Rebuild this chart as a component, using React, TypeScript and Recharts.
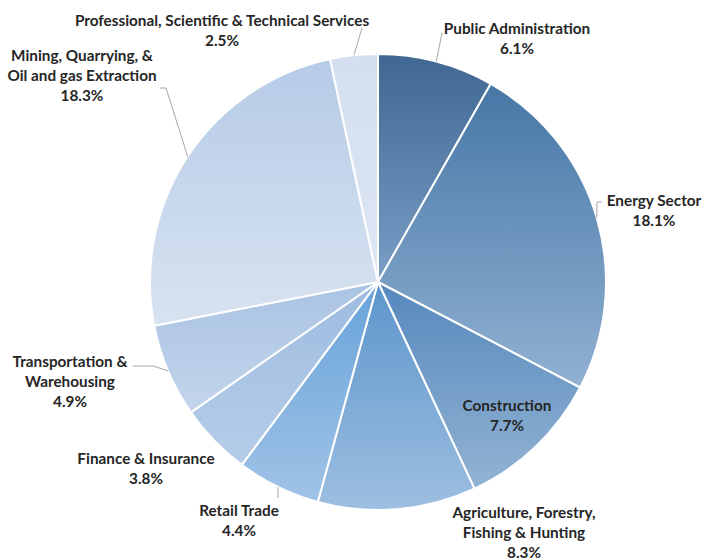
import { PieChart, Pie, Cell } from 'recharts';

const sectors = [
  'Public Administration',
  'Energy Sector',
  'Construction',
  'Agriculture, Forestry, Fishing & Hunting',
  'Retail Trade',
  'Finance & Insurance',
  'Transportation & Warehousing',
  'Mining, Quarrying, & Oil and gas Extraction',
  'Professional, Scientific & Technical Services',
];
const shares = [6.1, 18.1, 7.7, 8.3, 4.4, 3.8, 4.9, 18.3, 2.5];

const data = sectors.map((name, i) => ({ name, value: shares[i] }));

// gradient top / bottom per slice
const gradients = [
  ['#3f6791', '#7a9ec6'],
  ['#4677a6', '#91b1d2'],
  ['#5588bd', '#93b3d3'],
  ['#5c95cb', '#9dbfe1'],
  ['#67a3da', '#a0c3e6'],
  ['#9dbbdf', '#b6cde9'],
  ['#aac3e3', '#c3d5ec'],
  ['#b6cbe7', '#d8e3f1'],
  ['#d3dff0', '#dde6f3'],
];

// label placement relative to pie centre: text block (first line centre), leader points
type LabelLayout = { lines: string[]; dx: number; dy: number; leader?: [number, number][] };
const labelLayout: LabelLayout[] = [
  { lines: ['Public Administration'], dx: 139, dy: -254, leader: [[64, -249]] },
  { lines: ['Energy Sector'], dx: 276, dy: -82, leader: [[219, -80], [224, -80]] },
  { lines: ['Construction'], dx: 129, dy: 123 },
  { lines: ['Agriculture, Forestry,', 'Fishing & Hunting'], dx: 146, dy: 230 },
  { lines: ['Retail Trade'], dx: -139, dy: 228, leader: [[-100, 216]] },
  { lines: ['Finance & Insurance'], dx: -232, dy: 176 },
  { lines: ['Transportation &', 'Warehousing'], dx: -308, dy: 79, leader: [[-225, 84], [-245, 84]] },
  { lines: ['Mining, Quarrying, &', 'Oil and gas Extraction'], dx: -296, dy: -227, leader: [[-212, -194], [-218, -194]] },
  { lines: ['Professional, Scientific & Technical Services'], dx: -156, dy: -262, leader: [[-16, -254]] },
];

const RAD = Math.PI / 180;

function renderLabel(props: any) {
  const { cx, cy, midAngle, outerRadius, index, value } = props;
  const l = labelLayout[index];
  const ex = cx + outerRadius * Math.cos(-midAngle * RAD);
  const ey = cy + outerRadius * Math.sin(-midAngle * RAD);
  const lines = [...l.lines, `${value}%`];
  let path = '';
  if (l.leader) {
    path = `M${ex},${ey}` + l.leader.map(([x, y]) => ` L${cx + x},${cy + y}`).join('');
  }
  return (
    <g key={`lbl-${index}`}>
      {path && <path d={path} stroke="#a6a6a6" strokeWidth={1} fill="none" />}
      <text
        x={cx + l.dx}
        y={cy + l.dy}
        textAnchor="middle"
        dominantBaseline="central"
        fill="#262626"
        fontFamily="Lato, 'Open Sans', sans-serif"
        fontWeight={700}
        fontSize={15.3}
      >
        {lines.map((t, i) => (
          <tspan key={i} x={cx + l.dx} dy={i === 0 ? 0 : 20}>
            {t}
          </tspan>
        ))}
      </text>
    </g>
  );
}

export default function App() {
  return (
    <div style={{ width: 703, height: 558, background: '#fff' }}>
      <style>{'body{margin:0}'}</style>
      <PieChart width={703} height={558} margin={{ top: 0, right: 0, bottom: 0, left: 0 }}>
        <defs>
          {gradients.map(([top, bottom], i) => (
            <linearGradient key={i} id={`sg${i}`} x1="0" y1="0" x2="0" y2="1">
              <stop offset="0%" stopColor={top} />
              <stop offset="100%" stopColor={bottom} />
            </linearGradient>
          ))}
        </defs>
        <Pie
          data={data}
          dataKey="value"
          nameKey="name"
          cx={378}
          cy={282}
          outerRadius={228}
          startAngle={90}
          endAngle={-270}
          stroke="#ffffff"
          strokeWidth={2}
          label={renderLabel}
          labelLine={false}
          isAnimationActive={false}
        >
          {data.map((d, i) => (
            <Cell key={d.name} fill={`url(#sg${i})`} />
          ))}
        </Pie>
      </PieChart>
    </div>
  );
}
